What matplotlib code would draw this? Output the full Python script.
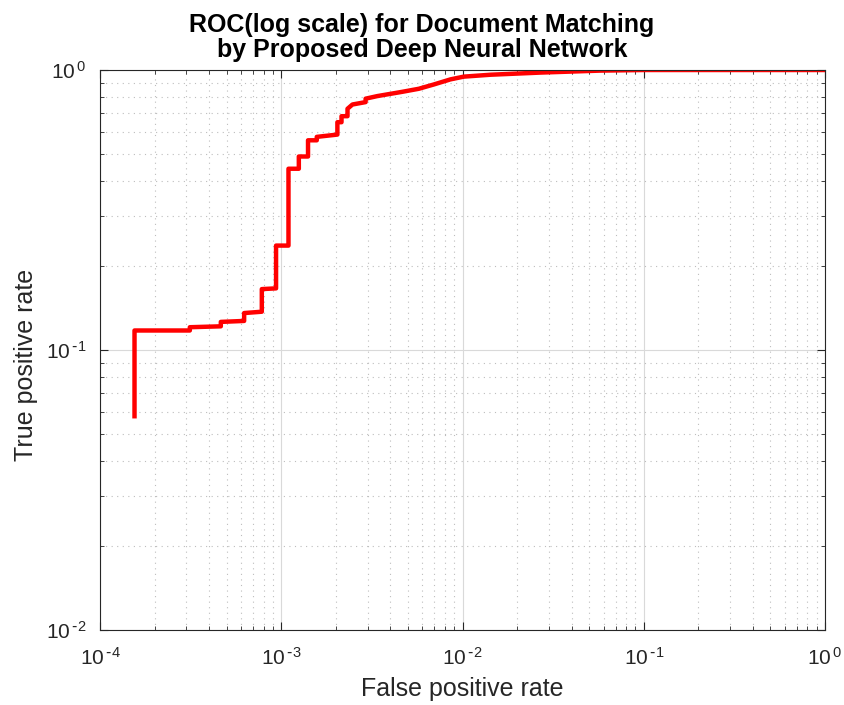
import matplotlib
matplotlib.use('Agg')
import matplotlib.pyplot as plt
import numpy as np
from matplotlib.ticker import LogLocator, NullFormatter, FuncFormatter

plt.rcParams['font.family'] = ['Liberation Sans', 'DejaVu Sans']

# ROC curve vertices
fpr = [1.55e-4, 1.55e-4, 3.13e-4, 3.13e-4, 4.64e-4, 4.64e-4, 6.24e-4, 6.24e-4,
       7.81e-4, 7.81e-4, 9.36e-4, 9.36e-4, 1.096e-3, 1.096e-3, 1.25e-3, 1.25e-3,
       1.405e-3, 1.405e-3, 1.57e-3, 1.57e-3, 2.04e-3, 2.04e-3, 2.15e-3, 2.15e-3,
       2.32e-3, 2.32e-3, 2.47e-3, 2.92e-3, 2.92e-3, 3.39e-3, 4.66e-3, 5.74e-3,
       6.95e-3, 8.59e-3, 1.017e-2, 1.43e-2, 2.69e-2, 5.75e-2, 1.0e-1, 1.0]
tpr = [0.058, 0.1174, 0.1174, 0.1206, 0.1215, 0.126, 0.127, 0.1355,
       0.137, 0.165, 0.166, 0.236, 0.236, 0.444, 0.444, 0.491,
       0.491, 0.561, 0.561, 0.577, 0.588, 0.651, 0.651, 0.684,
       0.684, 0.727, 0.753, 0.768, 0.790, 0.807, 0.836, 0.857,
       0.888, 0.926, 0.947, 0.962, 0.979, 0.995, 1.0, 1.0]

fig = plt.figure(figsize=(8.44, 7.05), dpi=100)
ax = fig.add_axes([0.1185, 0.1064, 0.859, 0.7943])

ax.plot(fpr, tpr, color='red', linewidth=3.2)

ax.set_xscale('log')
ax.set_yscale('log')
ax.set_xlim(1e-4, 1)
ax.set_ylim(1e-2, 1)

# matlab-ish "10 ^-4" labels, short hyphen in the exponent
def pow10(v, pos):
    e = int(round(np.log10(v)))
    if e < 0:
        return r'$\mathdefault{10^{\,\text{-}%d}}$' % (-e)
    return r'$\mathdefault{10^{\,%d}}$' % e

ax.xaxis.set_major_formatter(FuncFormatter(pow10))
ax.yaxis.set_major_formatter(FuncFormatter(pow10))
ax.xaxis.set_minor_locator(LogLocator(base=10, subs=range(2, 10)))
ax.yaxis.set_minor_locator(LogLocator(base=10, subs=range(2, 10)))
ax.xaxis.set_minor_formatter(NullFormatter())
ax.yaxis.set_minor_formatter(NullFormatter())

ax.grid(True, which='major', color='#d9d9d9', linewidth=0.8, linestyle='-')
ax.grid(True, which='minor', color='#bdbdbd', linewidth=0.8, linestyle=(0, (1, 4)))

ax.tick_params(which='both', direction='in', top=True, right=True, colors='#262626')
ax.tick_params(which='major', length=6, labelsize=15)
ax.tick_params(axis='x', which='major', pad=12)
ax.tick_params(axis='y', which='major', pad=10)
ax.tick_params(which='minor', length=3)
for s in ax.spines.values():
    s.set_color('#262626')

ax.set_xlabel('False positive rate', fontsize=18, color='#262626', labelpad=6)
ax.set_ylabel('True positive rate', fontsize=18, color='#262626')
ax.yaxis.set_label_coords(-0.085, 0.473)

# title is centred on the figure, not on the axes
fig.text(0.5, 1 - 57 / 705, 'ROC(log scale) for Document Matching\nby Proposed Deep Neural Network',
         fontsize=18, fontweight='bold', ha='center', va='baseline',
         linespacing=1.05, multialignment='center')

fig.savefig('out.png', dpi=100)
